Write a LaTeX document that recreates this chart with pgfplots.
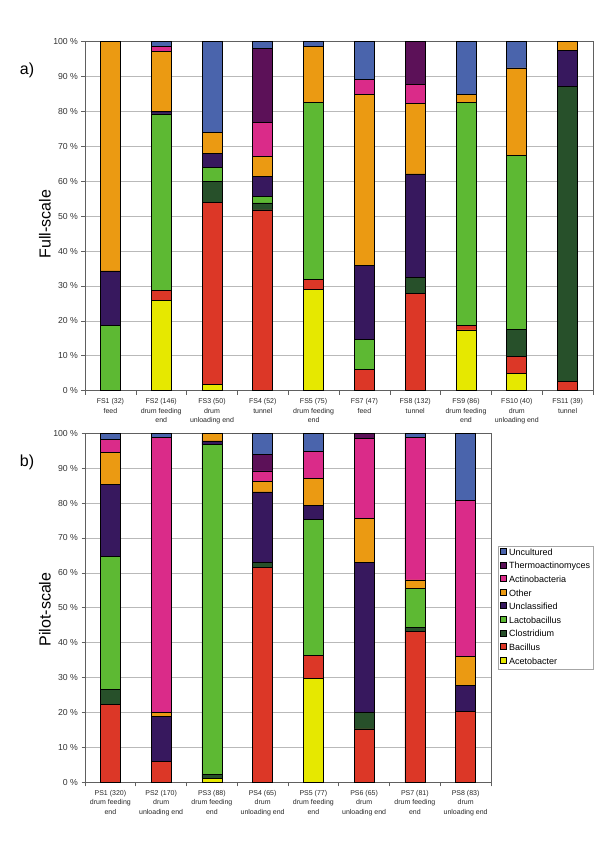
\documentclass[border=0pt]{standalone}
\usepackage{fontspec}
\setmainfont{Liberation Sans}
\usepackage{pgfplots}
\usepackage{pgfplotstable}
\pgfplotsset{compat=1.18}
\definecolor{cUncult}{HTML}{4A64AC}
\definecolor{cThermo}{HTML}{5C1158}
\definecolor{cActino}{HTML}{DA2B89}
\definecolor{cOther}{HTML}{EB9A12}
\definecolor{cUncl}{HTML}{37185E}
\definecolor{cLact}{HTML}{5DB933}
\definecolor{cClos}{HTML}{27502A}
\definecolor{cBac}{HTML}{DC3727}
\definecolor{cAcet}{HTML}{E6E800}

\pgfplotstableread{
x Acet Bac Clos Lact Uncl Other Actino Thermo Uncult
0 0 0 0 18.6 15.7 65.7 0 0 0
1 25.9 2.8 0 50.6 0.6 17.2 1.5 0 1.4
2 1.8 52.1 6.0 4.0 4.0 6.0 0 0 26.1
3 0 51.8 2.0 1.8 5.9 5.7 9.6 21.2 2.0
4 29.1 2.8 0 50.7 0 16.0 0 0 1.4
5 0 6.2 0 8.5 21.3 49.0 4.3 0 10.7
6 0 27.9 4.6 0 29.6 20.3 5.4 12.2 0
7 17.4 1.2 0 63.9 0 2.4 0 0 15.1
8 5.0 4.9 7.7 49.8 0 25.1 0 0 7.5
9 0 2.6 84.6 0 10.2 2.6 0 0 0
}\fsdata

\pgfplotstableread{
x Acet Bac Clos Lact Uncl Other Actino Thermo Uncult
0 0 22.2 4.4 38.1 20.7 9.2 3.7 0 1.7
1 0 5.9 0 0 12.9 1.1 79.0 0 1.1
2 1.1 0 1.2 94.4 1.1 2.2 0 0 0
3 0 61.6 1.5 0 20.1 3.0 3.0 4.8 6.0
4 29.8 6.5 0 39.1 4.0 7.6 7.8 0 5.2
5 0 15.3 4.7 0 43.0 12.5 23.1 1.4 0
6 0 43.2 1.2 11.2 0 2.4 40.9 0 1.1
7 0 20.4 0 0 7.3 8.4 44.7 0 19.2
}\psdata

\pgfplotsset{
  mystack/.style={
    ybar stacked,
    scale only axis,
    height=349pt,
    ymin=0, ymax=100,
    ytick={0,10,...,100},
    yticklabels={0 \%,10 \%,20 \%,30 \%,40 \%,50 \%,60 \%,70 \%,80 \%,90 \%,100 \%},
    ymajorgrids,
    grid style={gray!55, line width=0.6pt},
    axis line style={gray!75!black, line width=0.6pt},
    tick style={gray!75!black, line width=0.6pt},
    tick align=outside,
    major tick length=3.5pt,
    minor tick length=4pt,
    ytick pos=left,
    xtick pos=bottom,
    major x tick style={draw=none},
    yticklabel style={font=\fontsize{8.7}{10}\selectfont, text=black!80},
    xticklabel style={font=\fontsize{7}{9.3}\selectfont, align=center, text=black!85, yshift=-1pt},
    every axis plot/.append style={draw=black, line width=0.7pt, bar width=20pt},
    legend image code/.code={\draw[#1,draw=black,line width=0.4pt] (0pt,-0.6pt) rectangle (6pt,5.4pt);},
  }
}

\begin{document}
\begin{tikzpicture}
\path[use as bounding box] (0,0) rectangle (600pt,849pt);

\begin{axis}[mystack,
  at={(85pt,458.3pt)}, anchor=south west,
  width=508pt,
  xmin=-0.5, xmax=9.5,
  xtick={0,...,9},
  minor xtick={-0.5,0.5,...,9.5},
  xticklabels={{FS1 (32)\\feed},{FS2 (146)\\drum feeding\\end},{FS3 (50)\\drum\\unloading end},{FS4 (52)\\tunnel},{FS5 (75)\\drum feeding\\end},{FS7 (47)\\feed},{FS8 (132)\\tunnel},{FS9 (86)\\drum feeding\\end},{FS10 (40)\\drum\\unloading end},{FS11 (39)\\tunnel}},
]
\addplot[fill=cAcet] table[x=x,y=Acet]{\fsdata};
\addplot[fill=cBac] table[x=x,y=Bac]{\fsdata};
\addplot[fill=cClos] table[x=x,y=Clos]{\fsdata};
\addplot[fill=cLact] table[x=x,y=Lact]{\fsdata};
\addplot[fill=cUncl] table[x=x,y=Uncl]{\fsdata};
\addplot[fill=cOther] table[x=x,y=Other]{\fsdata};
\addplot[fill=cActino] table[x=x,y=Actino]{\fsdata};
\addplot[fill=cThermo] table[x=x,y=Thermo]{\fsdata};
\addplot[fill=cUncult] table[x=x,y=Uncult]{\fsdata};
\end{axis}

\begin{axis}[mystack,
  at={(85pt,66.7pt)}, anchor=south west,
  width=406pt,
  xmin=-0.5, xmax=7.5,
  xtick={0,...,7},
  minor xtick={-0.5,0.5,...,7.5},
  xticklabels={{PS1 (320)\\drum feeding\\end},{PS2 (170)\\drum\\unloading end},{PS3 (88)\\drum feeding\\end},{PS4 (65)\\drum\\unloading end},{PS5 (77)\\drum feeding\\end},{PS6 (65)\\drum\\unloading end},{PS7 (81)\\drum feeding\\end},{PS8 (83)\\drum\\unloading end}},
  reverse legend,
  legend style={at={(1.017,0.677)}, anchor=north west, draw=gray!70, line width=0.5pt,
    font=\fontsize{9}{11}\selectfont, row sep=0pt, inner xsep=2pt, inner ysep=0.5pt,
    nodes={inner sep=1pt, text height=7.5pt, text depth=4.1pt},
    /tikz/every odd column/.append style={column sep=1.5pt}},
  legend cell align=left,
]
\addplot[fill=cAcet] table[x=x,y=Acet]{\psdata};
\addplot[fill=cBac] table[x=x,y=Bac]{\psdata};
\addplot[fill=cClos] table[x=x,y=Clos]{\psdata};
\addplot[fill=cLact] table[x=x,y=Lact]{\psdata};
\addplot[fill=cUncl] table[x=x,y=Uncl]{\psdata};
\addplot[fill=cOther] table[x=x,y=Other]{\psdata};
\addplot[fill=cActino] table[x=x,y=Actino]{\psdata};
\addplot[fill=cThermo] table[x=x,y=Thermo]{\psdata};
\addplot[fill=cUncult] table[x=x,y=Uncult]{\psdata};
\legend{Acetobacter,Bacillus,Clostridium,Lactobacillus,Unclassified,Other,Actinobacteria,Thermoactinomyces,Uncultured}
\end{axis}

\node[font=\fontsize{16}{18}\selectfont] at (27pt,779pt) {a)};
\node[font=\fontsize{16}{18}\selectfont, rotate=90] at (45pt,625pt) {Full-scale};
\node[font=\fontsize{16}{18}\selectfont] at (27pt,387pt) {b)};
\node[font=\fontsize{16}{18}\selectfont, rotate=90] at (45pt,239.5pt) {Pilot-scale};
\end{tikzpicture}
\end{document}
